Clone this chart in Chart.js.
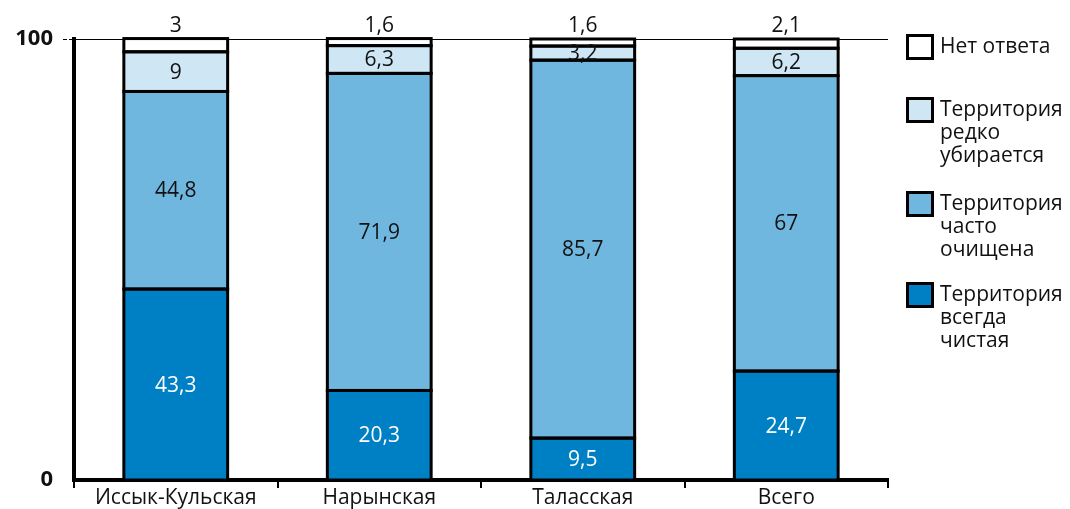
<!DOCTYPE html>
<html>
<head>
<meta charset="utf-8">
<script src="https://cdn.jsdelivr.net/npm/chart.js@4/dist/chart.umd.min.js"></script>
<style>
  html, body { margin: 0; padding: 0; background: #fff; }
  #wrap { width: 1070px; height: 509px; position: relative; }
</style>
</head>
<body>
<div id="wrap"><canvas id="c" width="1070" height="509"></canvas></div>
<script>
// Regions and survey answers (percent of respondents)
const regions = ['Иссык-Кульская', 'Нарынская', 'Таласская', 'Всего'];
const alwaysClean = [43.3, 20.3, 9.5, 24.7];
const oftenCleaned = [44.8, 71.9, 85.7, 67];
const rarelyCleaned = [9, 6.3, 3.2, 6.2];
const noAnswer = [3, 1.6, 1.6, 2.1];
const yTicks = [0, 100];

const seriesNames = [
  ['Территория', 'всегда', 'чистая'],
  ['Территория', 'часто', 'очищена'],
  ['Территория', 'редко', 'убирается'],
  ['Нет ответа']
];
const seriesColors = ['#0080c4', '#70b7e0', '#cfe6f4', '#ffffff'];
const labelColors = ['#ffffff', '#111111', '#111111', '#111111'];

const FONT = '"Open Sans", "Noto Sans", sans-serif';

// Black outline around every segment, so adjacent segments share one seam
const segmentOutlines = {
  id: 'segmentOutlines',
  afterDatasetsDraw(chart) {
    const ctx = chart.ctx;
    ctx.save();
    ctx.strokeStyle = '#000';
    ctx.lineWidth = 3;
    chart.data.datasets.forEach((ds, di) => {
      chart.getDatasetMeta(di).data.forEach((bar) => {
        const p = bar.getProps(['x', 'y', 'base', 'width'], true);
        ctx.strokeRect(p.x - p.width / 2, p.y, p.width, p.base - p.y);
      });
    });
    ctx.restore();
  }
};

// Value labels inside each segment; the top segment's label sits above the bar
const valueLabels = {
  id: 'valueLabels',
  afterDatasetsDraw(chart) {
    const ctx = chart.ctx;
    ctx.save();
    ctx.font = '21px ' + FONT;
    ctx.textAlign = 'center';
    ctx.textBaseline = 'middle';
    chart.data.datasets.forEach((ds, di) => {
      const meta = chart.getDatasetMeta(di);
      meta.data.forEach((bar, i) => {
        const p = bar.getProps(['x', 'y', 'base'], true);
        const txt = String(ds.data[i]).replace('.', ',');
        let y = (p.y + p.base) / 2;
        if (di === chart.data.datasets.length - 1) y = p.y - 14;
        ctx.fillStyle = labelColors[di];
        ctx.fillText(txt, p.x, y + 1);
      });
    });
    ctx.restore();
  }
};

// Legend column on the right, top entry first
const sideLegend = {
  id: 'sideLegend',
  afterDraw(chart) {
    const ctx = chart.ctx;
    const x0 = chart.chartArea.right + 18;
    const tops = [34, 97, 191, 282];
    ctx.save();
    ctx.font = '21px ' + FONT;
    ctx.textBaseline = 'middle';
    ctx.textAlign = 'left';
    const n = chart.data.datasets.length;
    for (let k = 0; k < n; k++) {
      const ds = chart.data.datasets[n - 1 - k];
      const top = tops[k];
      ctx.fillStyle = ds.backgroundColor;
      ctx.fillRect(x0, top, 28, 26);
      ctx.lineWidth = 3;
      ctx.strokeStyle = '#000';
      ctx.strokeRect(x0 + 1.5, top + 1.5, 25, 23);
      ctx.fillStyle = '#111';
      ds.label.forEach((line, j) => {
        ctx.fillText(line, x0 + 34, top + 13 + j * 23);
      });
    }
    ctx.restore();
  }
};

new Chart(document.getElementById('c'), {
  type: 'bar',
  data: {
    labels: regions,
    datasets: [alwaysClean, oftenCleaned, rarelyCleaned, noAnswer].map((vals, i) => ({
      label: seriesNames[i],
      data: vals,
      backgroundColor: seriesColors[i],
      borderWidth: 0,
      barPercentage: 0.51,
      categoryPercentage: 1.0,
      clip: false
    }))
  },
  options: {
    responsive: false,
    animation: false,
    devicePixelRatio: 1,
    layout: { padding: { left: 0, top: 39, right: 182, bottom: 0 } },
    plugins: { legend: { display: false }, tooltip: { enabled: false } },
    scales: {
      x: {
        stacked: true,
        afterFit(s) { s.height = 29; },
        border: { color: '#000', width: 4 },
        grid: {
          offset: true,
          drawOnChartArea: false,
          drawTicks: true,
          tickLength: 8,
          color: '#000',
          lineWidth: 2
        },
        ticks: {
          color: '#111',
          font: { family: FONT, size: 21 },
          padding: -3
        }
      },
      y: {
        stacked: true,
        min: 0,
        max: 100,
        afterFit(s) { s.width = 74; },
        afterBuildTicks(s) { s.ticks = yTicks.map(v => ({ value: v })); },
        border: { color: '#000', width: 4 },
        grid: {
          drawOnChartArea: true,
          drawTicks: true,
          tickLength: 11,
          color: '#000',
          lineWidth: (c) => c.tick && c.tick.value === 100 ? 1 : 0,
          borderDash: [4, 2],
          tickBorderDash: [4, 2]
        },
        ticks: {
          color: '#111',
          font: { family: FONT, size: 22, weight: 'bold' },
          padding: 10
        }
      }
    }
  },
  plugins: [segmentOutlines, valueLabels, sideLegend]
});
</script>
</body>
</html>
